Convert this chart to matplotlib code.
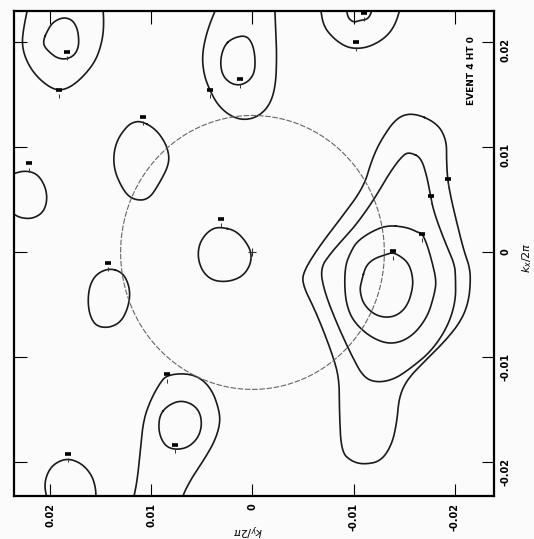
import numpy as np
import matplotlib.pyplot as plt

# Loops that run off the frame are open, the others are closed.
top_left_outer = [(22.2, 23.5), (22.7, 21.1), (22.8, 19.7), (22.4, 18.3), (21.5, 16.9), (20.2, 15.8),
                  (19.1, 15.4), (17.9, 15.8), (16.6, 16.9), (15.5, 18.3), (14.9, 20.0), (14.7, 21.6), (14.8, 23.5)]
top_left_inner = [(20.7, 20.2), (20.3, 21.1), (19.8, 21.9), (18.8, 22.4), (17.9, 22.2), (17.4, 21.5),
                  (17.2, 20.6), (17.2, 19.6), (17.6, 18.8), (18.4, 18.4), (19.3, 18.5), (20.0, 19.0), (20.6, 19.6)]
left_edge = [(24.2, 7.3), (23.7, 7.5), (22.5, 7.8), (21.3, 7.5), (20.5, 6.3), (20.3, 5.0),
             (20.7, 3.8), (21.8, 3.2), (23.0, 3.3), (23.7, 3.7), (24.2, 3.8)]
upper_left = [(10.8, 12.4), (10.0, 12.0), (9.2, 11.3), (8.4, 10.0), (8.2, 8.5), (9.2, 6.6), (10.3, 5.0),
              (11.8, 5.0), (12.8, 5.9), (13.8, 8.1), (13.6, 10.4), (12.4, 12.1), (11.5, 12.5)]
centre = [(3.1, 2.4), (1.7, 2.1), (0.7, 1.1), (0.1, 0.0), (0.2, -1.2), (1.0, -2.3), (2.4, -2.8),
          (3.9, -2.7), (4.9, -1.9), (5.4, -0.6), (5.3, 0.7), (4.7, 1.7), (3.9, 2.3)]
lower_left = [(14.1, -1.5), (12.9, -1.9), (12.3, -2.9), (12.1, -4.1), (12.4, -5.5), (13.1, -6.7),
              (14.3, -7.2), (15.5, -7.0), (16.1, -6.0), (16.3, -4.6), (16.1, -3.1), (15.4, -2.0)]
bottom_left = [(20.3, -23.6), (20.6, -22.2), (20.3, -21.0), (19.6, -20.1), (18.3, -19.6),
               (16.9, -20.1), (15.9, -21.2), (15.5, -22.5), (15.5, -23.6)]
bottom_outer = [(11.8, -23.6), (11.4, -21.7), (11.1, -18.9), (10.8, -16.0), (10.1, -14.1), (9.2, -12.5),
                (8.5, -11.7), (6.7, -11.5), (5.2, -11.9), (4.0, -13.1), (3.3, -15.0), (3.2, -16.3),
                (3.7, -17.9), (4.7, -19.6), (5.7, -21.0), (6.7, -22.7), (7.0, -23.6)]
bottom_inner = [(9.2, -15.5), (8.4, -14.6), (7.2, -14.1), (6.0, -14.4), (5.2, -15.2), (5.0, -16.5),
                (5.4, -17.7), (6.4, -18.6), (7.7, -18.8), (8.7, -18.4), (9.3, -17.1)]
top_mid_outer = [(3.5, 23.5), (4.5, 21.1), (5.0, 18.8), (4.8, 16.9), (4.2, 15.4), (3.4, 14.0), (2.2, 13.0),
                 (0.9, 12.6), (-0.5, 12.9), (-1.7, 14.0), (-2.3, 15.9), (-2.4, 18.8), (-2.3, 21.1), (-2.2, 23.5)]
top_mid_inner = [(2.8, 19.7), (2.0, 20.4), (0.7, 20.7), (0.05, 20.0), (-0.25, 18.8), (-0.25, 17.3),
                 (0.25, 16.4), (1.2, 15.9), (2.2, 16.1), (3.0, 16.9), (3.2, 18.3)]
top_right_outer = [(-6.7, 23.5), (-7.0, 21.6), (-8.0, 20.4), (-9.2, 19.6), (-10.3, 19.4), (-11.6, 19.6),
                   (-13.1, 20.4), (-14.1, 21.6), (-14.7, 23.5)]
top_right_inner = [(-9.3, 23.5), (-9.4, 22.4), (-10.0, 21.9), (-10.6, 22.1), (-11.4, 22.2), (-11.8, 22.9), (-11.8, 23.5)]
peak_1 = [(-16.0, 13.3), (-18.3, 12.3), (-19.2, 10.7), (-19.2, 8.8), (-19.3, 7.0), (-19.6, 5.4), (-20.0, 3.7),
          (-20.9, 0.2), (-21.4, -1.1), (-21.6, -2.4), (-21.4, -4.7), (-20.6, -6.6), (-19.0, -8.5), (-17.0, -10.4),
          (-15.3, -12.1), (-14.5, -13.8), (-14.3, -16.1), (-13.8, -18.3), (-12.7, -19.9), (-11.0, -20.2),
          (-9.8, -19.9), (-8.8, -19.0), (-8.6, -15.4), (-8.6, -12.3), (-8.1, -10.2), (-6.4, -5.9), (-4.9, -3.0),
          (-5.1, -1.7), (-6.7, 0.7), (-8.7, 3.2), (-11.0, 6.2), (-11.8, 8.8), (-12.7, 10.7), (-14.3, 12.9)]
peak_2 = [(-15.7, 9.5), (-16.7, 9.0), (-17.3, 7.1), (-17.6, 5.4), (-18.0, 3.7), (-19.0, 1.1), (-20.0, -1.1),
          (-20.1, -2.4), (-20.1, -4.7), (-19.3, -7.1), (-17.7, -9.4), (-15.7, -11.0), (-14.0, -12.1),
          (-12.3, -12.4), (-11.0, -11.9), (-9.9, -10.0), (-8.4, -6.9), (-7.1, -3.7), (-6.7, -1.5), (-7.8, 0.0),
          (-9.1, 1.4), (-10.3, 2.7), (-12.0, 5.0), (-13.7, 7.8), (-15.0, 9.4)]
peak_3 = [(-13.3, 2.6), (-15.3, 2.4), (-16.4, 1.9), (-16.8, 1.8), (-17.3, 0.7), (-17.8, -1.0), (-18.2, -2.7),
          (-18.0, -4.0), (-17.3, -6.2), (-15.7, -8.1), (-13.7, -8.8), (-11.7, -8.1), (-10.0, -6.6), (-9.3, -5.0),
          (-9.1, -3.1), (-9.2, -1.2), (-9.7, 0.0), (-10.3, 1.0), (-11.6, 1.9)]
peak_4 = [(-10.8, -2.7), (-11.2, -1.3), (-12.0, -0.6), (-13.2, -0.2), (-13.9, 0.0), (-14.7, -0.4), (-15.4, -1.0),
          (-15.8, -2.0), (-15.9, -3.3), (-15.3, -5.2), (-14.0, -6.2), (-12.3, -6.1), (-11.0, -5.0), (-10.6, -3.6)]

open_lines = [top_left_outer, left_edge, bottom_left, bottom_outer, top_mid_outer, top_right_outer, top_right_inner]
closed_lines = [top_left_inner, upper_left, centre, lower_left, bottom_inner, top_mid_inner,
                peak_1, peak_2, peak_3, peak_4]

# contour level markers
label_ky = [19.1, 18.4, 22.1, 10.8, 3.1, 14.3, 18.3, 8.5, 7.7, 4.2, 1.2, -10.2, -11.0, -19.3, -17.7, -16.8, -13.9]
label_kx = [15.5, 19.1, 8.5, 12.9, 3.2, -1.0, -19.2, -11.6, -18.3, 15.5, 16.5, 20.0, 22.8, 7.0, 5.4, 1.8, 0.1]

circle_radius = 13.05
tick_values = [0.02, 0.01, 0, -0.01, -0.02]
tick_labels = ['0.02', '0.01', '0', '-0.01', '-0.02']


def smooth(pts, closed, n=3):
    # corner cutting so the traced outlines look like pen lines
    p = np.asarray(pts, float) * 1e-3
    for _ in range(n):
        if closed:
            q = np.roll(p, -1, axis=0)
        else:
            q = p[1:]
        a = 0.75 * p[:len(q)] + 0.25 * q
        b = 0.25 * p[:len(q)] + 0.75 * q
        mid = np.empty((2 * len(a), 2))
        mid[0::2] = a
        mid[1::2] = b
        p = mid if closed else np.vstack([p[:1], mid, p[-1:]])
    if closed:
        p = np.vstack([p, p[:1]])
    return p


fig = plt.figure(figsize=(5.34, 5.39), dpi=100, facecolor='#fbfbfb')
ax = fig.add_axes([0.0262, 0.0798, 0.8989, 0.8998])
ax.set_facecolor('#fbfbfb')

for line in open_lines:
    p = smooth(line, False)
    ax.plot(p[:, 0], p[:, 1], color='#1a1a1a', lw=1.2)
for line in closed_lines:
    p = smooth(line, True)
    ax.plot(p[:, 0], p[:, 1], color='#1a1a1a', lw=1.2)

t = np.linspace(0, 2 * np.pi, 400)
ax.plot(circle_radius * 1e-3 * np.cos(t), circle_radius * 1e-3 * np.sin(t),
        color='#666666', lw=0.8, linestyle=(0, (5, 1.5)))
ax.plot([0], [0], marker='+', ms=6, mew=0.8, color='#333333')

lk_y = np.array(label_ky) * 1e-3
lk_x = np.array(label_kx) * 1e-3
ax.plot(lk_y, lk_x, ls='none', marker='_', ms=5, mew=2.6, color='black')
ax.plot(lk_y, lk_x - 0.6e-3, ls='none', marker='|', ms=3, mew=0.7, color='#333333')

ax.set_xlim(0.0236, -0.0239)
ax.set_ylim(-0.0232, 0.0230)
ax.set_xticks(tick_values)
ax.set_xticklabels(tick_labels)
ax.set_yticks(tick_values)
ax.set_yticklabels(tick_labels)
ax.yaxis.tick_right()
ax.tick_params(direction='in', length=9, width=0.8, top=True, bottom=True, left=True, right=True,
               labelsize=7, labelrotation=90)
ax.tick_params(axis='x', pad=5)
ax.tick_params(axis='y', pad=5)
for lab in ax.get_xticklabels() + ax.get_yticklabels():
    lab.set_fontweight('bold')
for s in ax.spines.values():
    s.set_linewidth(1.6)

ax.text(0.954, 0.878, 'EVENT 4 HT 0', transform=ax.transAxes, rotation=90,
        ha='center', va='center', fontsize=6.5, fontweight='bold')
ax.text(0.4875, -0.068, r'$k_y/2\pi$', transform=ax.transAxes, rotation=180,
        ha='center', va='center', fontsize=8)
ax.text(1.069, 0.491, r'$k_x/2\pi$', transform=ax.transAxes, rotation=90,
        ha='center', va='center', fontsize=8)

fig.savefig('out.png', dpi=100, facecolor=fig.get_facecolor())
